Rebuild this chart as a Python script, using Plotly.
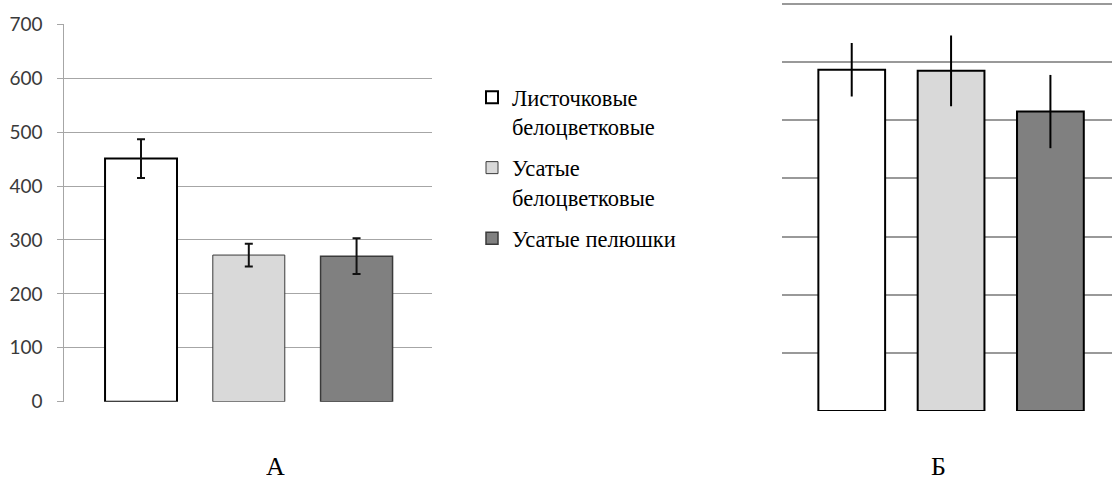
import plotly.graph_objects as go

# ---- data ----
categories = ["Листочковые белоцветковые", "Усатые белоцветковые", "Усатые пелюшки"]
legend_labels = ["Листочковые<br>белоцветковые", "Усатые<br>белоцветковые", "Усатые пелюшки"]
a_values = [451, 272, 270]
a_errors = [36, 21, 33]
b_values = [58.7, 58.5, 51.5]
b_errors = [4.6, 6.1, 6.3]
a_ticks = [0, 100, 200, 300, 400, 500, 600, 700]
b_ticks = [0, 10, 20, 30, 40, 50, 60, 70]
panel_labels = ["А", "Б"]

# ---- styles ----
fills = ["#ffffff", "#d9d9d9", "#808080"]
a_line_colors = ["#000000", "#3a3a3a", "#3a3a3a"]
a_line_widths = [2, 1, 1.5]

W, H = 1112, 479
b_px_per_unit = 407 / 70.0          # right panel: 0 at y=411px, 70 at y=4px
b_top = b_ticks[-1] + 4 / b_px_per_unit

fig = go.Figure()

for i, cat in enumerate(categories):
    fig.add_trace(go.Bar(
        x=[cat], y=[a_values[i]], name=legend_labels[i],
        width=0.668,
        marker=dict(color=fills[i], line=dict(color=a_line_colors[i], width=a_line_widths[i])),
        error_y=dict(type="data", array=[a_errors[i]], color="#111111", thickness=2, width=4),
        legendgroup=f"g{i}", showlegend=True,
        xaxis="x", yaxis="y",
    ))

for i, cat in enumerate(categories):
    fig.add_trace(go.Bar(
        x=[cat], y=[b_values[i]], name=legend_labels[i],
        width=0.672,
        marker=dict(color=fills[i], line=dict(color="#000000", width=2)),
        error_y=dict(type="data", array=[b_errors[i]], color="#000000", thickness=2, width=0),
        legendgroup=f"g{i}", showlegend=False,
        xaxis="x2", yaxis="y2",
    ))

fig.update_layout(
    width=W, height=H,
    margin=dict(l=0, r=0, t=0, b=0, autoexpand=False),
    paper_bgcolor="white", plot_bgcolor="white",
    barmode="overlay",
    showlegend=True,
    xaxis=dict(
        domain=[64.3 / W, 432 / W], type="category", categoryarray=categories,
        range=[-0.712, 2.70], showticklabels=False, showgrid=False, showline=False,
        zeroline=False, ticks="", automargin=False,
    ),
    yaxis=dict(
        domain=[1 - 401.7 / H, 1 - 24.3 / H], range=[0, 700],
        tickvals=a_ticks, ticktext=[str(t) for t in a_ticks],
        showgrid=True, gridcolor="#a6a6a6", gridwidth=1,
        showline=True, linecolor="#a6a6a6", linewidth=1,
        ticks="outside", ticklen=6, tickcolor="#a6a6a6", tickwidth=1,
        zeroline=False, ticklabelstandoff=11, automargin=False,
        tickfont=dict(family="Lato", size=19, color="#3a3a3a"),
    ),
    xaxis2=dict(
        domain=[781.7 / W, 1.0], type="category", categoryarray=categories,
        range=[-0.705, 2.62], showticklabels=False, showgrid=False, showline=False,
        zeroline=False, ticks="", anchor="y2", automargin=False,
    ),
    yaxis2=dict(
        domain=[1 - 411 / H, 1.0], range=[0, b_top], anchor="x2",
        tickvals=b_ticks, showticklabels=False,
        showgrid=True, gridcolor="#999999", gridwidth=2,
        showline=False, zeroline=False, ticks="", automargin=False,
    ),
    legend=dict(
        x=472 / W, y=1 - 76 / H, xanchor="left", yanchor="top",
        font=dict(family="Liberation Serif", size=22.5, color="#000000"),
        bgcolor="rgba(0,0,0,0)", borderwidth=0,
        traceorder="grouped", tracegroupgap=9, valign="top",
        itemclick=False, itemdoubleclick=False,
    ),
    annotations=[
        dict(text=panel_labels[0], x=275 / W, y=1 - 466 / H, xref="paper", yref="paper",
             showarrow=False, xanchor="center", yanchor="middle", height=22,
             font=dict(family="Liberation Serif", size=26, color="#000000")),
        dict(text=panel_labels[1], x=938 / W, y=1 - 466 / H, xref="paper", yref="paper",
             showarrow=False, xanchor="center", yanchor="middle", height=22,
             font=dict(family="Liberation Serif", size=26, color="#000000")),
    ],
)

fig.write_html(
    "out.html",
    config={"displayModeBar": False},
    post_script="document.body.style.margin='0';document.body.style.overflow='hidden';",
)
